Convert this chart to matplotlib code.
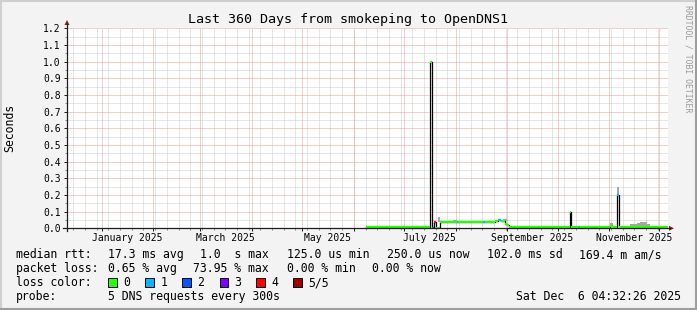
import numpy as np
import matplotlib
matplotlib.use("Agg")
import matplotlib.pyplot as plt
import matplotlib.dates as mdates
from matplotlib.patches import Rectangle, Polygon
from matplotlib.lines import Line2D

plt.rcParams['font.family'] = ['DejaVu Sans Mono']

W, H = 697, 310

# median rtt as a step series: value holds until the next date
med_dates = ['2025-06-08T06', '2025-07-16T12', '2025-07-18T00', '2025-07-19T00',
             '2025-07-20T00', '2025-07-22T12', '2025-08-01T14', '2025-08-02T06',
             '2025-08-17T05', '2025-08-18T10', '2025-08-24T14', '2025-08-26T12',
             '2025-08-28T05', '2025-08-30T14', '2025-08-31T22', '2025-09-02T02',
             '2025-10-08T07', '2025-10-09T07', '2025-10-13T22', '2025-10-14T12',
             '2025-11-01T12', '2025-11-03T07', '2025-11-05T12', '2025-11-07T00',
             '2025-12-06T04']
med_vals = [0.007, 1.0, 0.0, 0.038,
            0.0, 0.038, 0.038, 0.038,
            0.038, 0.038, 0.042, 0.050,
            0.046, 0.028, 0.018, 0.007,
            0.1, 0.007, 0.007, 0.007,
            0.012, 0.007, 0.2, 0.007,
            0.007]
med_loss = [0, 0, 2, 4,
            0, 0, 1, 0,
            1, 0, 0, 1,
            0, 0, 0, 0,
            0, 0, 1, 0,
            0, 0, 1, 0,
            0]

# smoke (spread of the pings)
smoke_start = ['2025-07-21T14', '2025-07-30T14', '2025-08-29T10', '2025-10-28T02',
               '2025-11-01T12', '2025-11-03T02', '2025-11-05T12', '2025-11-07T00',
               '2025-11-13T10', '2025-11-15T05', '2025-11-17T14', '2025-11-19T10',
               '2025-11-21T10', '2025-11-23T10']
smoke_end = ['2025-07-22T14', '2025-08-01T14', '2025-08-31T19', '2025-11-01T12',
             '2025-11-03T02', '2025-11-05T12', '2025-11-07T00', '2025-11-13T10',
             '2025-11-15T05', '2025-11-17T14', '2025-11-19T10', '2025-11-21T10',
             '2025-11-23T10', '2025-11-25T10']
smoke_lo = [0.038, 0.042, 0.045, 0.007, 0.007, 0.007, 0.2, 0.007,
            0.007, 0.007, 0.007, 0.007, 0.007, 0.007]
smoke_hi = [0.066, 0.052, 0.054, 0.014, 0.032, 0.014, 0.248, 0.014,
            0.027, 0.025, 0.032, 0.038, 0.035, 0.026]

loss_colors = ['#26ff00', '#00b8ff', '#0059ff', '#7e00ff', '#ff0000', '#a10000']
loss_labels = ['0', '1', '2', '3', '4', '5/5']

month_labels = ['January 2025', 'March 2025', 'May 2025', 'July 2025',
                'September 2025', 'November 2025']
month_label_dates = ['2025-01-16', '2025-03-16', '2025-05-16', '2025-07-16',
                     '2025-09-16', '2025-11-16']

t_start = np.datetime64('2024-12-11T04:32')
t_end = np.datetime64('2025-12-06T04:32')


def num(d):
    return mdates.date2num(np.array(d, dtype='datetime64[m]'))


def fx(px):
    return px / W


def fy(py):
    return 1 - py / H


fig = plt.figure(figsize=(W / 100, H / 100), dpi=100, facecolor='#f3f3f3')
ax = fig.add_axes([fx(67), fy(228.3), (668 - 67) / W, 200 / H])
ax.set_facecolor('white')
for s in ax.spines.values():
    s.set_visible(False)

x0, x1 = num(t_start), num(t_end)
ax.set_xlim(x0, x1)
ax.set_ylim(0, 1.2)

# grid: weeks (gray) and months (red), 0.05 (gray) and 0.1 (red)
weeks = num(np.arange(np.datetime64('2024-12-15'), t_end, np.timedelta64(7, 'D')))
months = num(np.arange(np.datetime64('2025-01'), np.datetime64('2026-01'),
                       dtype='datetime64[M]'))
dots = (0, (1, 1))
gkw = dict(lw=0.72, ls=dots, zorder=1)
for w in weeks:
    ax.axvline(w, color='#cccccc', **gkw)
for yv in np.arange(0.05, 1.2, 0.1):
    ax.axhline(yv, color='#cccccc', **gkw)
for m in months:
    ax.axvline(m, color='#e99a9a', **gkw)
for yv in np.arange(0.1, 1.25, 0.1):
    ax.axhline(yv, color='#e99a9a', **gkw)

# smoke
for s, e, lo, hi in zip(smoke_start, smoke_end, smoke_lo, smoke_hi):
    ax.fill_between([num(s), num(e)], [lo, lo], [hi, hi], color='#a6a6a6',
                    lw=0, zorder=2)

# median line: black steps, loss-coloured tops
mx = num(med_dates)
ax.step(mx, med_vals, where='post', color='black', lw=0.9, zorder=3)
ax.hlines(med_vals[:-1], mx[:-1], mx[1:],
          colors=[loss_colors[l] for l in med_loss[:-1]], lw=1.6, zorder=4,
          capstyle='butt')

# ticks
ax.set_yticks(np.arange(0, 1.21, 0.1))
ax.set_yticklabels(['%.1f' % v for v in np.arange(0, 1.21, 0.1)])
ax.set_yticks(np.arange(0.05, 1.2, 0.1), minor=True)
ax.set_xticks(months[months < x1])
ax.set_xticklabels([])
ax.set_xticks(weeks, minor=True)
ax.tick_params(which='major', direction='out', length=2.5, width=0.72,
               color='#1f1f1f', labelsize=7, pad=2)
ax.tick_params(which='minor', direction='out', length=1.5, width=0.72,
               color='#8f8f8f')
for lab, d in zip(month_labels, month_label_dates):
    ax.text(num(d), -0.047, lab, transform=ax.get_xaxis_transform(),
            ha='center', va='center', fontsize=7)

# axis lines and arrows
fig.add_artist(Line2D([fx(67), fx(67)], [fy(231), fy(24)], color='#1f1f1f', lw=0.9))
fig.add_artist(Line2D([fx(63), fx(670)], [fy(228.3), fy(228.3)], color='#1f1f1f', lw=0.9))
fig.add_artist(Polygon([[fx(64.5), fy(25)], [fx(69.5), fy(25)], [fx(67), fy(20)]],
                       closed=True, color='#7f1f1f', lw=0))
fig.add_artist(Polygon([[fx(669), fy(225.8)], [fx(669), fy(230.8)], [fx(674), fy(228.3)]],
                       closed=True, color='#7f1f1f', lw=0))

# title, axis label, watermark
fig.text(fx(348.5), fy(19), 'Last 360 Days from smokeping to OpenDNS1',
         ha='center', va='center', fontsize=9.6)
fig.text(fx(10), fy(128), 'Seconds', rotation=90, ha='center', va='center',
         fontsize=8.3)
fig.text(fx(688), fy(59), 'RRDTOOL / TOBI OETIKER', rotation=270, ha='center',
         va='center', fontsize=5.9, color='#9a9a9a')

# legend rows
fs = 8.3
rows = [
    (254.5, [(16, 'median rtt:'), (107.6, '17.3 ms avg'), (200, '1.0  s max'),
             (286.7, '125.0 us min'), (386.7, '250.0 us now'),
             (486.7, '102.0 ms sd'), (579, '169.4 m am/s')]),
    (268.5, [(16, 'packet loss:'), (107.6, '0.65 % avg'), (193.3, '73.95 % max'),
             (286.7, '0.00 % min'), (372.4, '0.00 % now')]),
    (282.5, [(16, 'loss color:')]),
    (296.5, [(16, 'probe:'), (107.6, '5 DNS requests every 300s')]),
]
for yy, items in rows:
    for xx, s in items:
        fig.text(fx(xx), fy(yy), s, ha='left', va='center', fontsize=fs)
fig.text(fx(680.5), fy(296.5), 'Sat Dec  6 04:32:26 2025', ha='right',
         va='center', fontsize=fs)

box_x = [108, 145.3, 182.2, 219.6, 256.4, 293.3]
for bx, c, lab in zip(box_x, loss_colors, loss_labels):
    fig.add_artist(Rectangle((fx(bx), fy(287)), 8.5 / W, 9 / H, facecolor=c,
                             edgecolor='black', lw=0.7))
    fig.text(fx(bx + 15), fy(282.5), lab, ha='left', va='center', fontsize=fs)

# canvas frame
fig.add_artist(Line2D([0, 1], [fy(1), fy(1)], color='#cfcfcf', lw=1.5))
fig.add_artist(Line2D([fx(1), fx(1)], [0, 1], color='#cfcfcf', lw=1.5))
fig.add_artist(Line2D([0, 1], [fy(309), fy(309)], color='#9e9e9e', lw=1.5))
fig.add_artist(Line2D([fx(696), fx(696)], [0, 1], color='#9e9e9e', lw=1.5))

fig.savefig('out.png', dpi=100, facecolor=fig.get_facecolor())
